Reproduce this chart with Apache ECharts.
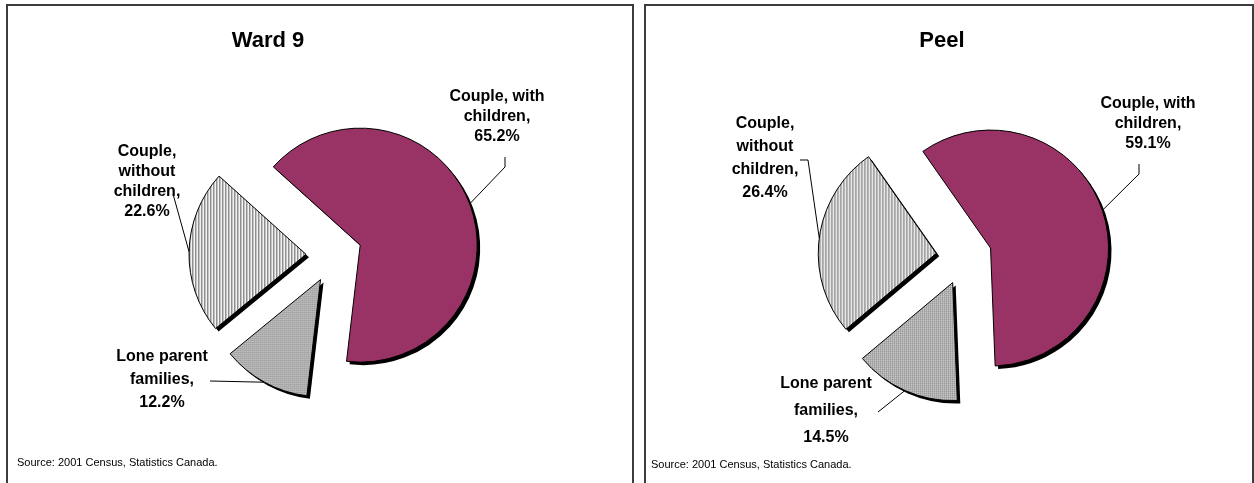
<!DOCTYPE html>
<html>
<head>
<meta charset="utf-8">
<script src="https://cdn.jsdelivr.net/npm/echarts@6/dist/echarts.min.js"></script>
<style>
  html, body { margin: 0; padding: 0; background: #ffffff; }
  #chart { width: 1254px; height: 483px; }
</style>
</head>
<body>
<div id="chart"></div>
<script>
// Family structure, 2001 Census
const categories = ['Couple, with children', 'Lone parent families', 'Couple, without children'];
const labelLines = [['Couple, with', 'children,'], ['Lone parent', 'families,'], ['Couple,', 'without', 'children,']];
const ward9Values = [65.2, 12.2, 22.6];
const peelValues = [59.1, 14.5, 26.4];
const panelTitles = ['Ward 9', 'Peel'];
const sourceNote = 'Source: 2001 Census, Statistics Canada.';

const FONT = '"Liberation Sans", Arial, sans-serif';

// Fill patterns: solid plum, vertical hatching, fine dotted grid
function makePattern(w, h, pixels) {
  const c = document.createElement('canvas');
  c.width = w; c.height = h;
  const ctx = c.getContext('2d');
  for (let y = 0; y < h; y++) {
    for (let x = 0; x < w; x++) {
      ctx.fillStyle = pixels[y][x];
      ctx.fillRect(x, y, 1, 1);
    }
  }
  return { image: c, repeat: 'repeat' };
}
const stripes = makePattern(3, 1, [['#f2f2f2', '#8e8e8e', '#c4c4c4']]);
const dots = makePattern(2, 2, [['#ffffff', '#a0a0a0'], ['#a0a0a0', '#808080']]);
const fills = ['#993366', dots, stripes];

// Panel layout
const panels = [
  {
    values: ward9Values, title: panelTitles[0],
    box: [7, 5, 626, 500], titlePos: [268, 41], sourcePos: [17, 463],
    center: [334, 255], radius: 117, offset: 28, startAngle: 138,
    labels: [
      { x: 497, y: 97, lh: 20, path: [[505, 167], [505, 157]] },
      { x: 162, y: 357, lh: 23, path: [[210, 381]] },
      { x: 147, y: 152, lh: 20, path: [[173, 194]] }
    ]
  },
  {
    values: peelValues, title: panelTitles[1],
    box: [645, 5, 608, 500], titlePos: [942, 41], sourcePos: [651, 465],
    center: [964, 257], radius: 118, offset: 28, startAngle: 125,
    labels: [
      { x: 1148, y: 104, lh: 20, path: [[1139, 174], [1139, 164]] },
      { x: 826, y: 384, lh: 27, path: [[878, 412]] },
      { x: 765, y: 124, lh: 23, path: [[808, 160], [800, 160]] }
    ]
  }
];

const SHADOW = 3;
const graphics = [];
const series = [];

function pieSeries(p, shadow) {
  return {
    type: 'pie',
    center: shadow ? [p.center[0] + SHADOW, p.center[1] + SHADOW] : p.center,
    radius: [0, p.radius],
    startAngle: p.startAngle,
    clockwise: true,
    selectedMode: 'multiple',
    selectedOffset: p.offset,
    animation: false,
    silent: true,
    z: shadow ? 4 : 5,
    label: { show: false },
    labelLine: { show: false },
    emphasis: { disabled: true },
    itemStyle: shadow ? { borderWidth: 0, color: '#000' } : { borderColor: '#000', borderWidth: 1 },
    select: { itemStyle: shadow ? { borderWidth: 0 } : { borderColor: '#000', borderWidth: 1 } },
    data: p.values.map(function (v, i) {
      return {
        value: v, name: categories[i], selected: true,
        itemStyle: { color: shadow ? '#000' : fills[i] }
      };
    })
  };
}

panels.forEach(function (p) {
  graphics.push({
    type: 'rect', silent: true, z: 0,
    shape: { x: p.box[0], y: p.box[1], width: p.box[2], height: p.box[3] },
    style: { fill: '#ffffff', stroke: '#3c3c3c', lineWidth: 2 }
  });
  graphics.push({
    type: 'text', silent: true, z: 10, x: p.titlePos[0], y: p.titlePos[1],
    style: { text: p.title, font: 'bold 22px ' + FONT, fill: '#000', align: 'center', verticalAlign: 'middle' }
  });
  graphics.push({
    type: 'text', silent: true, z: 10, x: p.sourcePos[0], y: p.sourcePos[1],
    style: { text: sourceNote, font: '11px ' + FONT, fill: '#000', align: 'left', verticalAlign: 'middle' }
  });

  // drop shadow first, then the slices
  series.push(pieSeries(p, true));
  series.push(pieSeries(p, false));

  // Category labels with leader lines to the slice rims
  const total = p.values.reduce(function (a, b) { return a + b; }, 0);
  let cum = 0;
  p.values.forEach(function (v, i) {
    const mid = (p.startAngle - (cum + v / 2) / total * 360) * Math.PI / 180;
    cum += v;
    const reach = p.radius + p.offset;
    const edge = [p.center[0] + Math.cos(mid) * reach, p.center[1] - Math.sin(mid) * reach];
    const lab = p.labels[i];
    const lines = labelLines[i].concat([v.toFixed(1) + '%']);
    lines.forEach(function (t, k) {
      graphics.push({
        type: 'text', silent: true, z: 10, x: lab.x, y: lab.y + k * lab.lh,
        style: { text: t, font: 'bold 16px ' + FONT, fill: '#000', align: 'center', verticalAlign: 'middle' }
      });
    });
    graphics.push({
      type: 'polyline', silent: true, z: 9,
      shape: { points: [edge].concat(lab.path) },
      style: { stroke: '#000', lineWidth: 1, fill: null }
    });
  });
});

const chart = echarts.init(document.getElementById('chart'), null, { renderer: 'canvas' });
chart.setOption({
  backgroundColor: '#ffffff',
  animation: false,
  graphic: { elements: graphics },
  series: series
});
</script>
</body>
</html>
